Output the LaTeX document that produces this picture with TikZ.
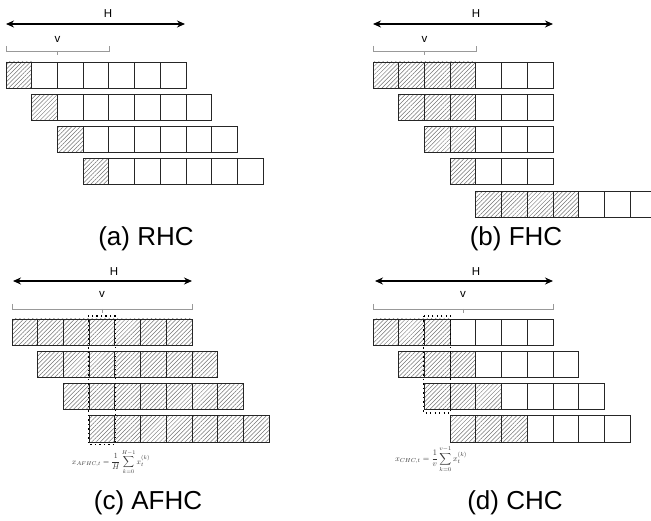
\documentclass[tikz,border=0pt]{standalone}
\usepackage{fontspec}
\setmainfont{Liberation Sans}
\usetikzlibrary{patterns.meta,arrows.meta}
\begin{document}
\begin{tikzpicture}[x=1pt,y=-1pt,
  cell/.style={draw=black!85, line width=0.8pt, minimum width=25.7pt, minimum height=26pt, inner sep=0pt, outer sep=0pt, anchor=north west},
  hcell/.style={cell, pattern={Lines[angle=45,distance=3pt,line width=0.5pt]}, pattern color=black!55},
  harrow/.style={{Stealth[length=8pt,width=7pt]}-{Stealth[length=8pt,width=7pt]}, line width=1.8pt},
  bracket/.style={draw=black!40, line width=0.8pt},
  hlabel/.style={font=\fontsize{11.5}{13}\selectfont, inner sep=0pt},
  caption/.style={font=\fontsize{26}{30}\selectfont, inner sep=0pt},
  window/.style={draw, line width=1.3pt, dash pattern=on 1.3pt off 3.2pt},
  formula/.style={inner sep=0pt, text=black!80}
]
\useasboundingbox (0,0) rectangle (651,521);

% ---------------- (a) RHC ----------------
\coordinate (aL) at (6,24); \coordinate (aR) at (185,24);
\draw[harrow] (aL) -- (aR);
\node[hlabel] (aH) at (108,14) {H};
\coordinate (aBl) at (6,51); \coordinate (aBr) at (109,51); \coordinate (aBc) at (57.5,51);
\draw[bracket] ([yshift=5]aBl) -- (aBl) -- (aBr) -- ([yshift=5]aBr);
\draw[bracket] (aBc) -- ([yshift=-4]aBc);
\node[hlabel] (aV) at (57.5,39) {v};
\foreach \r in {0,...,3}{\foreach \c in {0,...,6}{
  \pgfmathsetmacro\xx{6+(\r+\c)*25.7}\pgfmathsetmacro\yy{62+\r*32.3}
  \ifnum\c<1 \node[hcell] (a\r\c) at (\xx,\yy) {};\else\node[cell] (a\r\c) at (\xx,\yy) {};\fi}}
\node[caption] (capa) at (146,239) {(a) RHC};

% ---------------- (b) FHC ----------------
\coordinate (bL) at (373,24); \coordinate (bR) at (553,24);
\draw[harrow] (bL) -- (bR);
\node[hlabel] (bH) at (476,14) {H};
\coordinate (bBl) at (373,51); \coordinate (bBr) at (476,51); \coordinate (bBc) at (424.5,51);
\draw[bracket] ([yshift=5]bBl) -- (bBl) -- (bBr) -- ([yshift=5]bBr);
\draw[bracket] (bBc) -- ([yshift=-4]bBc);
\node[hlabel] (bV) at (424.5,39) {v};
\foreach \r in {0,...,3}{
  \pgfmathtruncatemacro\n{6-\r}
  \foreach \c in {0,...,\n}{
  \pgfmathsetmacro\xx{373+(\r+\c)*25.7}\pgfmathsetmacro\yy{62+\r*32.3}
  \pgfmathtruncatemacro\s{\r+\c}
  \ifnum\s<4 \node[hcell] (b\r\c) at (\xx,\yy) {};\else\node[cell] (b\r\c) at (\xx,\yy) {};\fi}}
\foreach \c in {0,...,6}{
  \pgfmathsetmacro\xx{373+(4+\c)*25.7}
  \ifnum\c<4 \node[hcell] (b4\c) at (\xx,191.2) {};\else\node[cell] (b4\c) at (\xx,191.2) {};\fi}
\node[caption] (capb) at (516,239) {(b) FHC};

% ---------------- (c) AFHC ----------------
\coordinate (cL) at (13,281); \coordinate (cR) at (192,281);
\draw[harrow] (cL) -- (cR);
\node[hlabel] (cH) at (114,272) {H};
\coordinate (cBl) at (12,309); \coordinate (cBr) at (192,309); \coordinate (cBc) at (102,309);
\draw[bracket] ([yshift=5]cBl) -- (cBl) -- (cBr) -- ([yshift=5]cBr);
\draw[bracket] (cBc) -- ([yshift=-4]cBc);
\node[hlabel] (cV) at (102,294) {v};
\foreach \r in {0,...,3}{\foreach \c in {0,...,6}{
  \pgfmathsetmacro\xx{12+(\r+\c)*25.7}\pgfmathsetmacro\yy{319+\r*32.3}
  \node[hcell] (c\r\c) at (\xx,\yy) {};}}
\draw[window] ([shift={(-0.8,-3)}]c03.north west) rectangle ([shift={(0.5,2.5)}]c30.south east);
\node[formula] (fc) at (111,462) {\resizebox{78pt}{!}{$\displaystyle x_{AFHC,t} = \frac{1}{H}\sum_{k=0}^{H-1} x_t^{(k)}$}};
\node[caption] (capc) at (148,503) {(c) AFHC};

% ---------------- (d) CHC ----------------
\coordinate (dL) at (375,281); \coordinate (dR) at (553,281);
\draw[harrow] (dL) -- (dR);
\node[hlabel] (dH) at (476,272) {H};
\coordinate (dBl) at (373,309); \coordinate (dBr) at (553,309); \coordinate (dBc) at (463,309);
\draw[bracket] ([yshift=5]dBl) -- (dBl) -- (dBr) -- ([yshift=5]dBr);
\draw[bracket] (dBc) -- ([yshift=-4]dBc);
\node[hlabel] (dV) at (463,294) {v};
\foreach \r in {0,...,3}{\foreach \c in {0,...,6}{
  \pgfmathsetmacro\xx{373+(\r+\c)*25.7}\pgfmathsetmacro\yy{319+\r*32.3}
  \ifnum\c<3 \node[hcell] (d\r\c) at (\xx,\yy) {};\else\node[cell] (d\r\c) at (\xx,\yy) {};\fi}}
\draw[window] ([shift={(-0.8,-3)}]d02.north west) rectangle ([shift={(0.5,3.5)}]d20.south east);
\node[formula] (fd) at (431,459) {\resizebox{72pt}{!}{$\displaystyle x_{CHC,t} = \frac{1}{v}\sum_{k=0}^{v-1} x_t^{(k)}$}};
\node[caption] (capd) at (515,503) {(d) CHC};
\end{tikzpicture}
\end{document}
